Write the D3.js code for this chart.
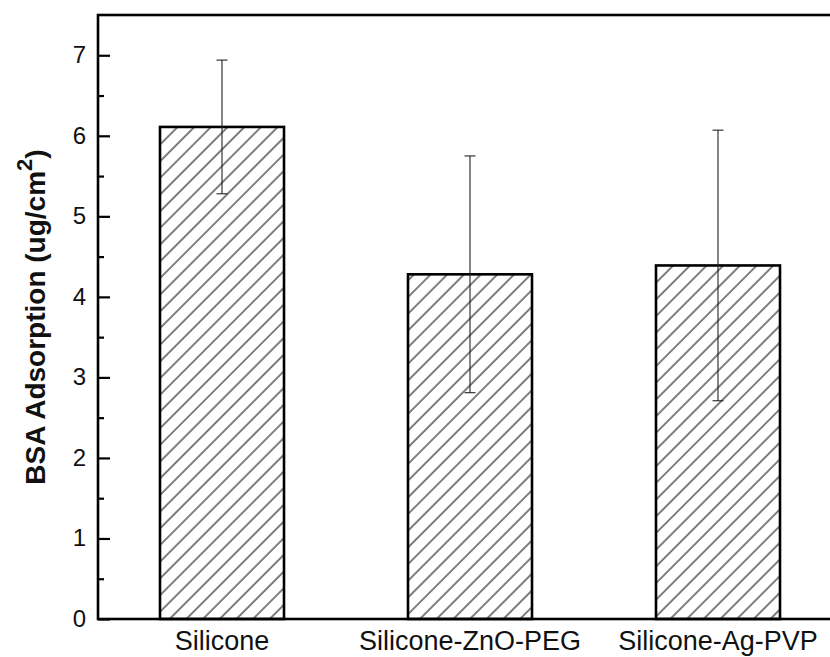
<!DOCTYPE html>
<html>
<head>
<meta charset="utf-8">
<script src="https://cdn.jsdelivr.net/npm/d3@7"></script>
<style>
  html, body { margin: 0; padding: 0; background: #fff; }
  svg { display: block; }
  text { font-family: "Liberation Sans", Arial, sans-serif; fill: #111; }
</style>
</head>
<body>
<svg id="chart" width="830" height="657"></svg>
<script>
// BSA adsorption per surface, mean with error (± value)
const categories = ["Silicone", "Silicone-ZnO-PEG", "Silicone-Ag-PVP"];
const means = [6.11, 4.28, 4.39];
const errors = [0.83, 1.47, 1.68];
const yTicks = [0, 1, 2, 3, 4, 5, 6, 7];
const yMinorTicks = [0.5, 1.5, 2.5, 3.5, 4.5, 5.5, 6.5];

const svg = d3.select("#chart");
const plotLeft = 98, plotRight = 842, plotTop = 15, plotBottom = 619;

const x = d3.scaleBand().domain(categories).range([plotLeft, plotRight]).paddingInner(0.5).paddingOuter(0.25);
const y = d3.scaleLinear().domain([0, 7.5]).range([plotBottom, plotTop]);

// Diagonal hatch fill
const defs = svg.append("defs");
const pat = defs.append("pattern")
  .attr("id", "hatch")
  .attr("patternUnits", "userSpaceOnUse")
  .attr("width", 11.8).attr("height", 11.8)
  .attr("patternTransform", "rotate(45)");
pat.append("rect").attr("width", 11.8).attr("height", 11.8).attr("fill", "#fff");
pat.append("line")
  .attr("x1", 3).attr("y1", 0).attr("x2", 3).attr("y2", 11.8)
  .attr("stroke", "#000").attr("stroke-width", 1);

// Bars
svg.append("g").selectAll("rect")
  .data(categories)
  .join("rect")
  .attr("x", d => x(d))
  .attr("width", x.bandwidth())
  .attr("y", (d, i) => y(means[i]))
  .attr("height", (d, i) => y(0) - y(means[i]))
  .attr("fill", "url(#hatch)")
  .attr("stroke", "#000")
  .attr("stroke-width", 2.6);

// Error bars
const eb = svg.append("g").attr("stroke", "#222").attr("stroke-width", 1.1);
categories.forEach((c, i) => {
  const cx = x(c) + x.bandwidth() / 2;
  eb.append("line").attr("x1", cx).attr("x2", cx)
    .attr("y1", y(means[i] - errors[i])).attr("y2", y(means[i] + errors[i]));
  [means[i] - errors[i], means[i] + errors[i]].forEach(v => {
    eb.append("line").attr("x1", cx - 5.5).attr("x2", cx + 5.5)
      .attr("y1", y(v)).attr("y2", y(v));
  });
});

// Y axis: major ticks inside with labels, minor ticks inside
const yAxis = d3.axisLeft(y).tickValues(yTicks).tickSize(-12).tickPadding(12).tickFormat(d3.format("d"));
const gy = svg.append("g").attr("transform", `translate(${plotLeft},0)`).call(yAxis);
gy.select(".domain").remove();
gy.selectAll(".tick line").attr("stroke", "#000").attr("stroke-width", 2.2);
gy.selectAll(".tick text").attr("font-size", 24).attr("dy", "0.3em").attr("fill", "#111");

const yMinor = d3.axisLeft(y).tickValues(yMinorTicks).tickSize(-6).tickFormat("");
const gm = svg.append("g").attr("transform", `translate(${plotLeft},0)`).call(yMinor);
gm.select(".domain").remove();
gm.selectAll(".tick line").attr("stroke", "#000").attr("stroke-width", 2.2);

// X axis labels
const xAxis = d3.axisBottom(x).tickSize(0).tickPadding(12);
const gx = svg.append("g").attr("transform", `translate(0,${plotBottom})`).call(xAxis);
gx.select(".domain").remove();
gx.selectAll(".tick text").attr("font-size", 27).attr("fill", "#111");

// Plot frame
svg.append("rect")
  .attr("x", plotLeft).attr("y", plotTop)
  .attr("width", plotRight - plotLeft).attr("height", plotBottom - plotTop)
  .attr("fill", "none").attr("stroke", "#000").attr("stroke-width", 2.6);

// Y axis title
const yt = svg.append("text")
  .attr("transform", `translate(45,${(plotTop + plotBottom) / 2}) rotate(-90)`)
  .attr("text-anchor", "middle")
  .attr("font-size", 28)
  .attr("font-weight", "bold");
yt.append("tspan").text("BSA Adsorption (ug/cm");
yt.append("tspan").attr("font-size", 22).attr("dy", -13).text("2");
yt.append("tspan").attr("dy", 13).text(")");
</script>
</body>
</html>
